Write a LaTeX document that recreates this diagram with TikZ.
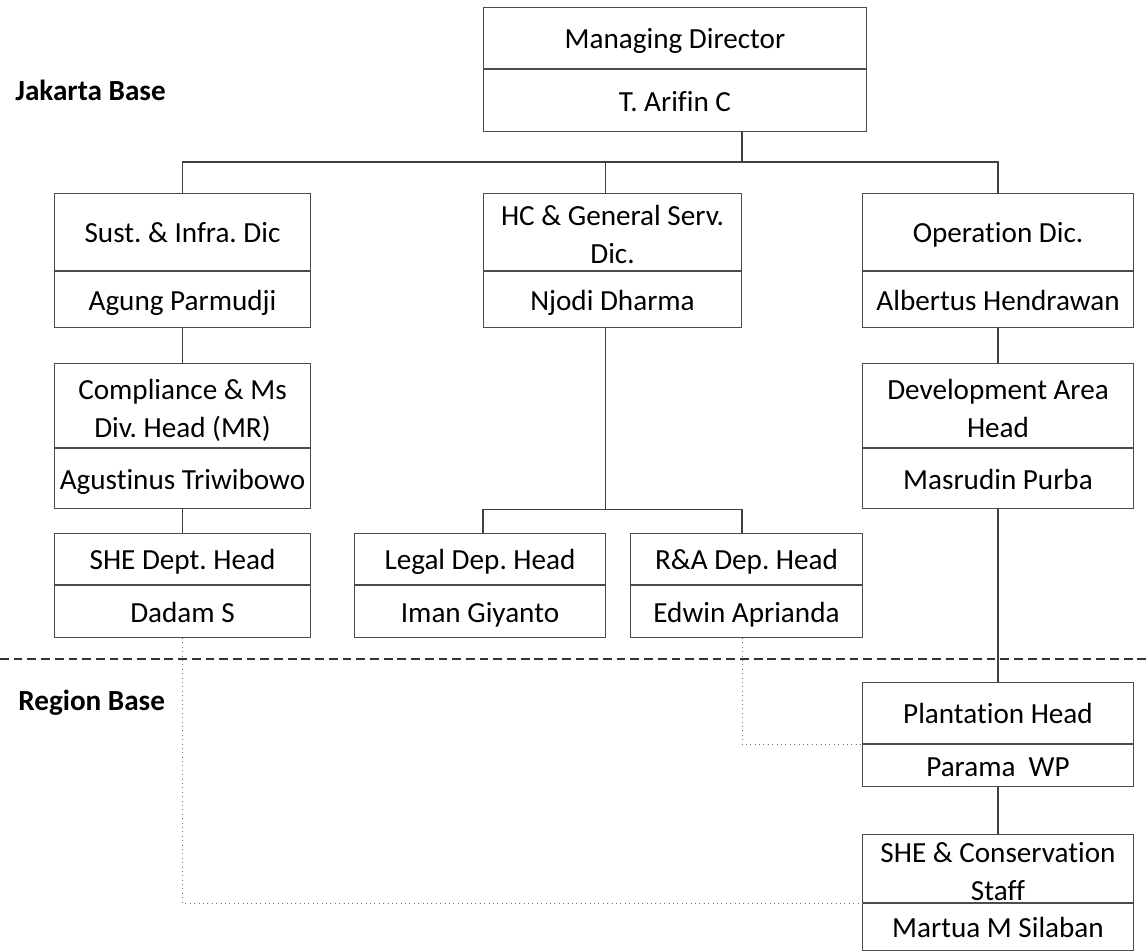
\documentclass[tikz,border=0pt]{standalone}
\usepackage{fontspec}
\setmainfont[Ligatures=NoCommon]{Carlito}
\usetikzlibrary{positioning}
\frenchspacing

\begin{document}
\begin{tikzpicture}[x=0.02cm,y=-0.02cm,
    every node/.style={font=\fontsize{16.6}{21.5}\selectfont},
    post/.style={draw=black!70,line width=0.6pt,align=center,inner sep=0pt,anchor=north west,
                 execute at begin node=\rule{0pt}{15pt},execute at end node=\rule[-3pt]{0pt}{3pt}},
    holder/.style={draw=black!70,line width=0.6pt,align=center,inner sep=0pt,below=0pt of #1,
                 execute at begin node=\rule{0pt}{15pt},execute at end node=\rule[-3pt]{0pt}{3pt}},
    twoline/.style={text height=36pt,text depth=-0.5pt},
    link/.style={draw=black!75,line width=0.6pt},
    dotlink/.style={draw=black!55,dotted,line width=0.5pt},
    base/.style={font=\fontsize{16.6}{21.5}\selectfont\bfseries,anchor=west,inner sep=0pt}]

  \useasboundingbox (0,0) rectangle (1146,950);

  \node[base] (jkt) at (15,90)  {Jakarta Base};
  \node[base] (reg) at (18,703) {Region Base};

  \node[post,minimum width=7.66cm,minimum height=1.22cm] (md)  at (483,7)   {Managing Director};
  \node[holder=md,minimum width=7.66cm,minimum height=1.24cm] (mdp)         {T. Arifin C};

  \node[post,minimum width=5.12cm,minimum height=1.54cm] (sust) at (54,193)  {Sust. \& Infra. Dic};
  \node[holder=sust,minimum width=5.12cm,minimum height=1.12cm] (sustp)      {Agung Parmudji};
  \node[post,twoline,minimum width=5.16cm,minimum height=1.54cm] (hc) at (483,193) {HC \& General Serv.\\Dic.};
  \node[holder=hc,minimum width=5.16cm,minimum height=1.12cm] (hcp)          {Njodi Dharma};
  \node[post,minimum width=5.42cm,minimum height=1.54cm] (opr)  at (862,193) {Operation Dic.};
  \node[holder=opr,minimum width=5.42cm,minimum height=1.12cm] (oprp)        {Albertus Hendrawan};

  \node[post,twoline,minimum width=5.12cm,minimum height=1.68cm] (comp) at (54,363)  {Compliance \& Ms\\Div. Head (MR)};
  \node[holder=comp,minimum width=5.12cm,minimum height=1.2cm] (compp)       {Agustinus Triwibowo};
  \node[post,twoline,minimum width=5.42cm,minimum height=1.68cm] (dev)  at (862,363) {Development Area\\Head};
  \node[holder=dev,minimum width=5.42cm,minimum height=1.2cm] (devp)         {Masrudin Purba};

  \node[post,minimum width=5.12cm,minimum height=1.02cm] (she)   at (54,533)  {SHE Dept. Head};
  \node[holder=she,minimum width=5.12cm,minimum height=1.04cm] (shep)        {Dadam S};
  \node[post,minimum width=5.02cm,minimum height=1.02cm] (legal) at (354,533) {Legal Dep. Head};
  \node[holder=legal,minimum width=5.02cm,minimum height=1.04cm] (legalp)    {Iman Giyanto};
  \node[post,minimum width=4.64cm,minimum height=1.02cm] (rna)   at (630,533) {R\&A Dep. Head};
  \node[holder=rna,minimum width=4.64cm,minimum height=1.04cm] (rnap)        {Edwin Aprianda};

  \node[post,minimum width=5.42cm,minimum height=1.22cm] (plant) at (862,682) {Plantation Head};
  \node[holder=plant,minimum width=5.42cm,minimum height=0.84cm] (plantp)    {Parama\ \ WP};
  \node[post,twoline,minimum width=5.42cm,minimum height=1.36cm] (shec) at (862,834) {SHE \& Conservation\\Staff};
  \node[holder=shec,minimum width=5.42cm,minimum height=0.94cm] (shecp)      {Martua M Silaban};

  % region divider
  \draw[black!80,line width=0.7pt,dash pattern=on 5pt off 2.8pt] (0,659) -- (1146,659);

  % solid reporting lines
  \draw[link] (sust.north) -- ++(0,-31) coordinate (bus) -| (opr.north);
  \draw[link] (mdp.south -| hc.east) -- (bus -| hc.east);
  \draw[link] ([xshift=-0.14cm]hc.north) -- ([xshift=-0.14cm]hc.north |- bus);
  \draw[link] ([xshift=-0.14cm]hcp.south) -- ([xshift=-0.14cm]hcp.south |- compp.south);
  \draw[link] (legal.north -| hc.west) -- (hc.west |- compp.south)
              -- (hc.east |- compp.south) -- (rna.north -| hc.east);
  \path[link] (sustp) edge (comp)
              (compp) edge (she)
              (oprp)  edge (dev)
              (devp)  edge (plant)
              (plantp) edge (shec);

  % dotted coordination lines
  \draw[dotlink] (rnap.south -| hc.east) |- (plant.south west);
  \draw[dotlink] (shep.south) |- (shec.south west);
\end{tikzpicture}
\end{document}
